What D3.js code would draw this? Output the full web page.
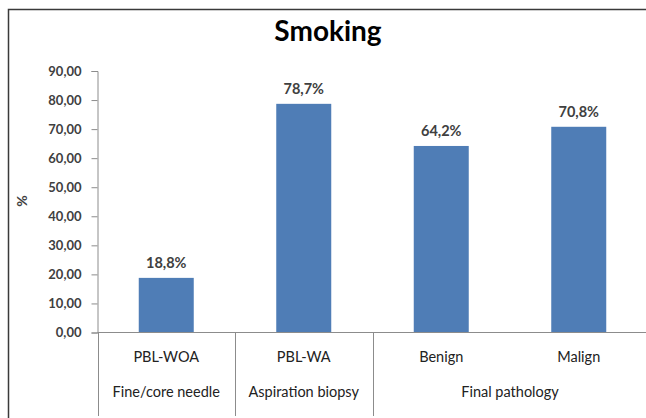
<!DOCTYPE html>
<html>
<head>
<meta charset="utf-8">
<script src="https://cdn.jsdelivr.net/npm/d3@7"></script>
<style>
  html, body { margin: 0; padding: 0; background: #fff; }
  svg { display: block; }
  text { font-family: Lato, "Open Sans", sans-serif; }
</style>
</head>
<body>
<svg id="chart" width="646" height="418"></svg>
<script>
// Share of smokers per biopsy group
const categories = ["PBL-WOA", "PBL-WA", "Benign", "Malign"];
const values = [18.8, 78.7, 64.2, 70.8];
const groupNames = ["Fine/core needle", "Aspiration biopsy", "Final pathology"];
const groupSpans = [1, 1, 2];
const yTicks = [0, 10, 20, 30, 40, 50, 60, 70, 80, 90];
const title = "Smoking";
const yLabel = "%";

const svg = d3.select("#chart");
const W = 646, H = 418;
const plot = { left: 97.5, right: 647.5, top: 71, bottom: 332.5 };

const comma = s => s.replace(".", ",");
const fmtTick = v => comma(d3.format(".2f")(v));
const fmtVal = v => comma(d3.format(".1f")(v)) + "%";

const x = d3.scaleBand()
  .domain(categories)
  .range([plot.left, plot.right])
  .paddingInner(0.6)
  .paddingOuter(0.3);

const y = d3.scaleLinear()
  .domain([0, 90])
  .range([plot.bottom, plot.top]);

// Outer frame (top and left edges are visible)
svg.append("path")
  .attr("d", `M8.5,${H} V9.5 H${W}`)
  .attr("fill", "none")
  .attr("stroke", "#3a3a3a")
  .attr("stroke-width", 1.5);

// Title
svg.append("text")
  .attr("x", 328)
  .attr("y", 41)
  .attr("text-anchor", "middle")
  .attr("font-size", 28)
  .attr("font-weight", "bold")
  .attr("fill", "#000")
  .text(title);

// Y axis
const yAxis = svg.append("g")
  .attr("transform", `translate(${plot.left},0)`)
  .call(d3.axisLeft(y).tickValues(yTicks).tickFormat(fmtTick).tickSizeOuter(0).tickSize(6).tickPadding(10));
yAxis.select(".domain").attr("stroke", "#8c8c8c");
yAxis.selectAll(".tick line").attr("stroke", "#8c8c8c");
yAxis.selectAll(".tick text")
  .attr("font-size", 13)
  .attr("font-weight", "bold")
  .attr("fill", "#404040");

// Y axis title
svg.append("text")
  .attr("transform", `translate(27,201) rotate(-90)`)
  .attr("text-anchor", "middle")
  .attr("font-size", 14)
  .attr("font-weight", "bold")
  .attr("fill", "#404040")
  .text(yLabel);

// Bars
svg.append("g").selectAll("rect")
  .data(values)
  .join("rect")
  .attr("x", (d, i) => x(categories[i]))
  .attr("y", d => y(d))
  .attr("width", x.bandwidth())
  .attr("height", d => y(0) - y(d))
  .attr("fill", "#4f7db6");

// Value labels
svg.append("g").selectAll("text")
  .data(values)
  .join("text")
  .attr("x", (d, i) => x(categories[i]) + x.bandwidth() / 2)
  .attr("y", d => y(d) - 10)
  .attr("text-anchor", "middle")
  .attr("font-size", 14.5)
  .attr("font-weight", "bold")
  .attr("fill", "#404040")
  .text(fmtVal);

// Category axis line
svg.append("line")
  .attr("x1", plot.left).attr("x2", W)
  .attr("y1", plot.bottom).attr("y2", plot.bottom)
  .attr("stroke", "#8c8c8c");

// Group separators below the axis
const step = x.step();
const catLeft = i => x(categories[i]) - x.paddingInner() * step / 2;
let idx = 0;
const bounds = [];
groupSpans.forEach(s => { bounds.push([idx, idx + s]); idx += s; });
const edgeX = i => i < categories.length ? catLeft(i) : plot.right;

svg.append("g").selectAll("line")
  .data(bounds)
  .join("line")
  .attr("x1", d => Math.round(edgeX(d[0])) + 0.5)
  .attr("x2", d => Math.round(edgeX(d[0])) + 0.5)
  .attr("y1", plot.bottom)
  .attr("y2", 416)
  .attr("stroke", "#8c8c8c");

// Category labels
svg.append("g").selectAll("text")
  .data(categories)
  .join("text")
  .attr("x", d => x(d) + x.bandwidth() / 2)
  .attr("y", 362)
  .attr("text-anchor", "middle")
  .attr("font-size", 14.5)
  .attr("fill", "#222")
  .text(d => d);

// Group labels
svg.append("g").selectAll("text")
  .data(groupNames)
  .join("text")
  .attr("x", (d, i) => (edgeX(bounds[i][0]) + edgeX(bounds[i][1])) / 2)
  .attr("y", 397)
  .attr("text-anchor", "middle")
  .attr("font-size", 14.5)
  .attr("fill", "#222")
  .text(d => d);
</script>
</body>
</html>
